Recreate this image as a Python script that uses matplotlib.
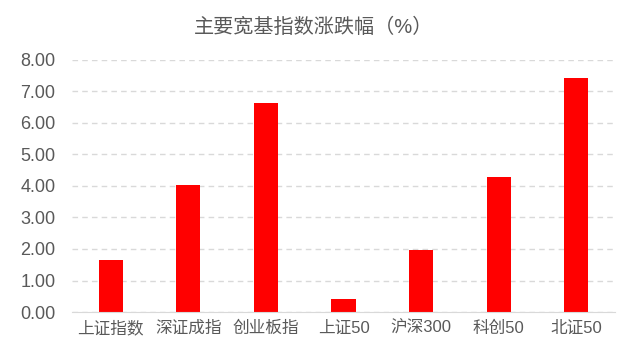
import matplotlib
matplotlib.use("Agg")
import matplotlib.pyplot as plt
import numpy as np

plt.rcParams['font.family'] = ['Liberation Sans', 'Noto Sans CJK SC', 'DejaVu Sans']

categories = ["上证指数", "深证成指", "创业板指", "上证50", "沪深300", "科创50", "北证50"]
values = [1.64, 4.03, 6.64, 0.40, 1.98, 4.30, 7.44]
y_ticks = [0, 1, 2, 3, 4, 5, 6, 7, 8]

grey = "#595959"

fig = plt.figure(figsize=(6.34, 3.61), dpi=100)
ax = fig.add_axes([0.1136, 0.1357, 0.8564, 0.6983])

x = np.arange(len(categories))
ax.bar(x, values, width=0.31, color="#ff0000", zorder=3)

ax.set_xlim(-0.5, len(categories) - 0.5)
ax.set_ylim(0, 8)
ax.set_yticks(y_ticks)
ax.set_yticklabels([f"{v:.2f}" for v in y_ticks])
ax.set_xticks(x)
ax.set_xticklabels(categories)
ax.tick_params(axis="both", length=0, labelsize=12, colors=grey)
ax.tick_params(axis="y", labelsize=13, pad=12)
ax.tick_params(axis="x", pad=6)

ax.grid(axis="y", color="#d9d9d9", linestyle=(0, (4, 3)), linewidth=1, zorder=0)
for s in ["top", "right", "left"]:
    ax.spines[s].set_visible(False)
ax.spines["bottom"].set_color("#d9d9d9")
ax.spines["bottom"].set_zorder(4)

fig.text(0.494, 0.925, "主要宽基指数涨跌幅（%）", ha="center", va="center",
         fontsize=14.5, color=grey)

fig.savefig("out.png", dpi=100)
